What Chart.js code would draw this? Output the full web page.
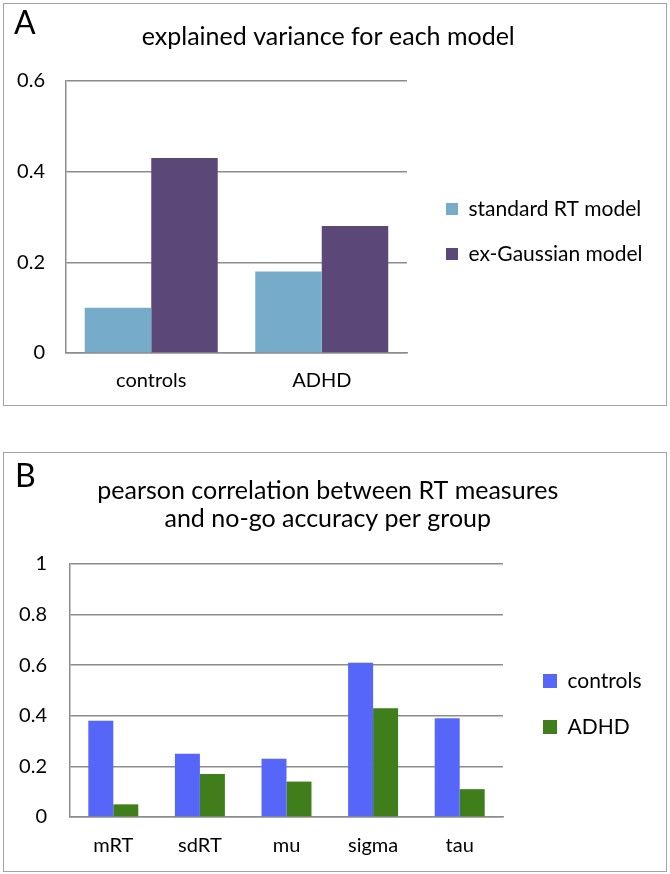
<!DOCTYPE html>
<html>
<head>
<meta charset="utf-8">
<script src="https://cdn.jsdelivr.net/npm/chart.js@4/dist/chart.umd.min.js"></script>
<style>
  body { margin: 0; background: #fff; width: 670px; height: 874px; position: relative; font-family: Lato, sans-serif; }
  .panel { position: absolute; border: 1px solid #a3a3a3; background: #fff; }
  .panel canvas { position: absolute; left: 0; top: 0; }
  .letter { position: absolute; font-size: 32px; line-height: 32px; color: #000; z-index: 2; }
</style>
</head>
<body>

<div class="panel" style="left:3px;top:3px;width:662px;height:401px">
  <div class="letter" style="left:10px;top:2px">A</div>
  <canvas id="chartA" width="662" height="401"></canvas>
</div>

<div class="panel" style="left:3px;top:452px;width:662px;height:418px">
  <div class="letter" style="left:11px;top:6px">B</div>
  <canvas id="chartB" width="662" height="418"></canvas>
</div>

<script>
// panel A: explained variance
var groupsA = ['controls', 'ADHD'];
var standardRT = [0.10, 0.18];
var exGaussian = [0.43, 0.28];
var ticksA = ['0', '0.2', '0.4', '0.6'];

// panel B: pearson correlations
var measuresB = ['mRT', 'sdRT', 'mu', 'sigma', 'tau'];
var controlsB = [0.38, 0.25, 0.23, 0.61, 0.39];
var adhdB = [0.05, 0.17, 0.14, 0.43, 0.11];
var ticksB = ['0', '0.2', '0.4', '0.6', '0.8', '1'];

var gridColor = '#8c8c8c';

Chart.defaults.font.family = 'Lato, sans-serif';
Chart.defaults.color = '#000';
Chart.defaults.animation = false;

function makeScales(tickLabels, max, yWidth, yPad, xHeight, xPad, gap) {
  return {
    x: {
      grid: { display: false, drawTicks: false },
      border: { display: true, color: gridColor, width: 1.5 },
      ticks: { font: { size: 20 }, padding: xPad, color: '#000' },
      afterFit: function (s) { s.height = xHeight; }
    },
    y: {
      min: 0,
      max: max,
      grid: { color: gridColor, lineWidth: 1.5, drawTicks: false },
      border: { display: true, color: gridColor, width: 1.5 },
      ticks: {
        stepSize: 0.2,
        padding: yPad,
        font: { size: 20 },
        color: '#000',
        callback: function (v, i) { return tickLabels[i]; }
      },
      afterFit: function (s) { s.width = yWidth; }
    },
    // empty spacer between plot and legend
    gap: {
      type: 'linear',
      position: 'right',
      grid: { display: false },
      border: { display: false },
      ticks: { display: false },
      afterFit: function (s) { s.width = gap; }
    }
  };
}

// right padding so the legend starts at legendLeft
function rightPad(canvasW, legendLeft, labels, fontSize, box, pad) {
  var ctx = document.createElement('canvas').getContext('2d');
  ctx.font = fontSize + 'px Lato';
  var w = 0;
  labels.forEach(function (t) { w = Math.max(w, ctx.measureText(t).width); });
  var legendW = pad + box + fontSize / 2 + w + 10;
  return Math.max(0, canvasW - legendLeft - legendW);
}

function draw() {
  var labA = ['standard RT model', 'ex-Gaussian model'];
  new Chart(document.getElementById('chartA'), {
    type: 'bar',
    data: {
      labels: groupsA,
      datasets: [
        { label: labA[0], data: standardRT, backgroundColor: '#76abc9' },
        { label: labA[1], data: exGaussian, backgroundColor: '#5c4878' }
      ]
    },
    options: {
      responsive: false,
      devicePixelRatio: 1,
      categoryPercentage: 0.78,
      barPercentage: 1.0,
      layout: { padding: { right: rightPad(662, 418, labA, 21, 12, 24) } },
      plugins: {
        title: {
          display: true,
          text: 'explained variance for each model',
          color: '#000',
          font: { size: 25, weight: 'normal' },
          padding: { top: 18, bottom: 29 }
        },
        legend: {
          position: 'right',
          fullSize: false,
          maxWidth: 400,
          title: { display: true, text: ' ', font: { size: 10, lineHeight: 1 }, padding: { top: 0, bottom: 19 } },
          labels: { boxWidth: 12, boxHeight: 12, padding: 24, font: { size: 21 }, color: '#000' }
        },
        tooltip: { enabled: false }
      },
      scales: makeScales(ticksA, 0.6, 62, 21, 52, 16, 15)
    }
  });

  var labB = ['controls', 'ADHD'];
  new Chart(document.getElementById('chartB'), {
    type: 'bar',
    data: {
      labels: measuresB,
      datasets: [
        { label: labB[0], data: controlsB, backgroundColor: '#5566f9' },
        { label: labB[1], data: adhdB, backgroundColor: '#3f7e1a' }
      ]
    },
    options: {
      responsive: false,
      devicePixelRatio: 1,
      categoryPercentage: 0.577,
      barPercentage: 1.0,
      layout: { padding: { right: rightPad(662, 514, labB, 21, 14, 25) } },
      plugins: {
        title: {
          display: true,
          text: ['pearson correlation between RT measures', 'and no-go accuracy per group'],
          color: '#000',
          font: { size: 25, weight: 'normal', lineHeight: 1.12 },
          padding: { top: 24, bottom: 31 }
        },
        legend: {
          position: 'right',
          fullSize: false,
          maxWidth: 400,
          title: { display: true, text: ' ', font: { size: 10, lineHeight: 1 }, padding: { top: 0, bottom: 17 } },
          labels: { boxWidth: 14, boxHeight: 14, padding: 25, font: { size: 21 }, color: '#000' }
        },
        tooltip: { enabled: false }
      },
      scales: makeScales(ticksB, 1, 66, 23, 54, 17, 15)
    }
  });
}

if (document.fonts && document.fonts.load) {
  document.fonts.load('20px Lato').then(draw, draw);
} else {
  draw();
}
</script>
</body>
</html>
